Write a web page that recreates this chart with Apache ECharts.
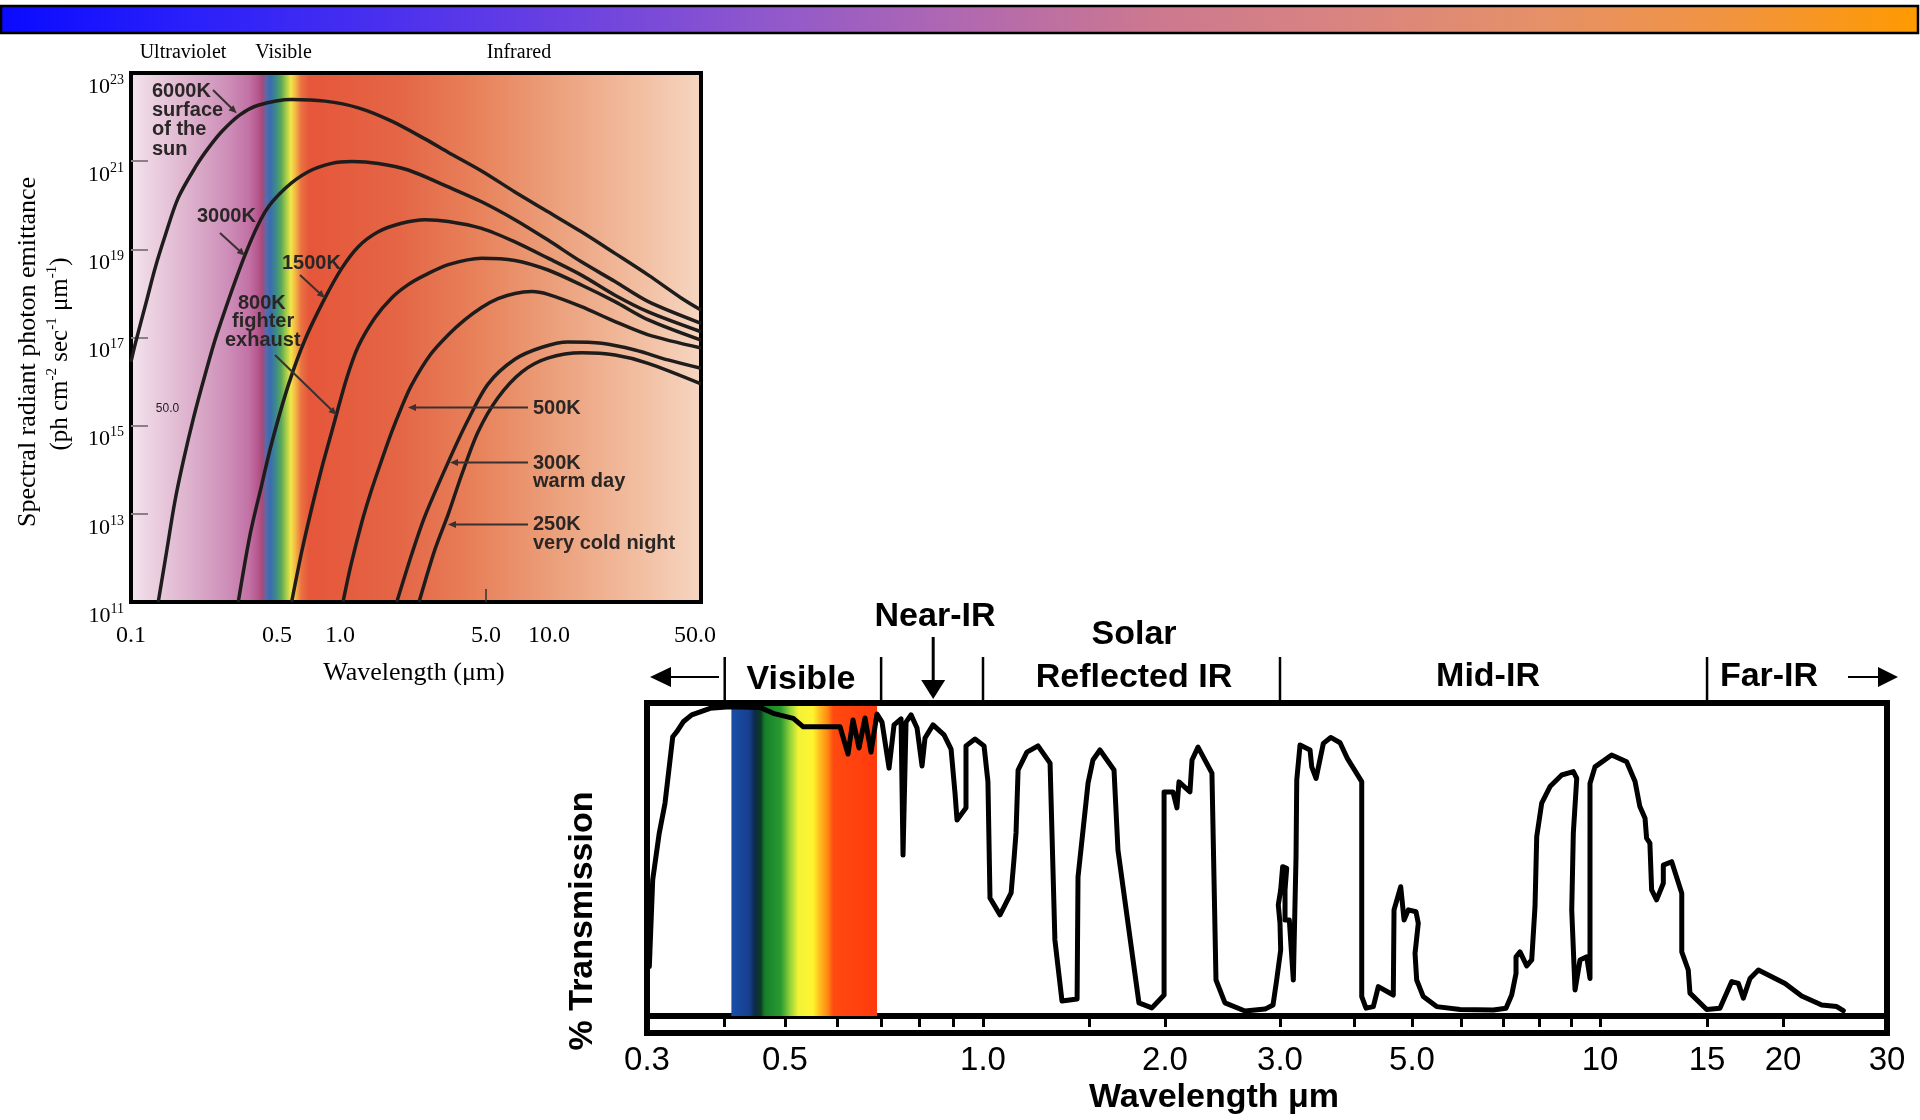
<!DOCTYPE html>
<html><head><meta charset="utf-8">
<script src="https://cdn.jsdelivr.net/npm/echarts@6/dist/echarts.min.js"></script>
<style>html,body{margin:0;padding:0;background:#fff}#c{width:1920px;height:1120px}</style>
</head><body><div id="c"></div>
<script>
// ---------------- LEFT CHART DATA: spectral photon emittance (wavelength µm, ph cm^-2 s^-1 µm^-1)
const leftTickWavelengths = [0.1, 0.5, 1.0, 5.0, 10.0, 50.0];
const leftTickLabels = ['0.1', '0.5', '1.0', '5.0', '10.0', '50.0'];
const leftWavelengthMax = 53.4;
const emittanceExponents = [11, 13, 15, 17, 19, 21, 23];

const curve6000K = [[0.1,2.8e16],[0.1045,6.8e16],[0.119,7.1e17],[0.130,3.55e18],[0.1455,2.0e19],[0.168,1.45e20],[0.206,8.1e20],[0.234,1.95e21],[0.272,4.7e21],[0.332,1.12e22],[0.406,1.86e22],[0.587,2.5e22],[0.847,2.3e22],[1.224,1.62e22],[1.767,8.1e21],[2.55,3.2e21],[3.30,1.58e21],[4.76,6.0e20],[6.87,2.0e20],[9.9,7.1e19],[14.3,2.5e19],[20.7,8.1e18],[29.9,2.6e18],[43.1,7.8e17],[53.4,4.2e17]];
const curve3000K = [[0.135,1.0e11],[0.148,1.38e12],[0.162,1.86e13],[0.178,1.58e14],[0.199,1.48e15],[0.226,1.41e16],[0.257,1.15e17],[0.351,7.4e18],[0.438,7.1e19],[0.546,2.4e20],[0.705,5.75e20],[0.912,8.9e20],[1.14,9.8e20],[1.525,8.9e20],[2.12,6.3e20],[3.30,2.6e20],[4.76,1.2e20],[6.87,4.7e19],[9.9,1.62e19],[14.3,5.2e18],[20.7,1.86e18],[29.9,6.5e17],[53.4,2.1e17]];
const curve1500K = [[0.326,1.0e11],[0.371,3.3e12],[0.422,4.5e13],[0.471,4.0e14],[0.566,8.3e15],[0.68,8.9e16],[0.847,7.8e17],[1.019,3.7e18],[1.224,1.15e19],[1.525,2.5e19],[1.97,3.9e19],[2.55,4.7e19],[3.30,4.3e19],[4.76,3.0e19],[6.87,1.48e19],[9.9,6.3e18],[14.3,2.6e18],[20.7,9.1e17],[29.9,3.8e17],[53.4,1.35e17]];
const curve800K = [[0.587,1.0e11],[0.656,1.38e12],[0.732,1.32e13],[0.817,1.07e14],[0.912,7.1e14],[1.076,1.17e16],[1.224,6.3e16],[1.47,2.8e17],[1.767,7.9e17],[2.12,1.58e18],[2.55,2.6e18],[3.30,4.5e18],[4.76,6.3e18],[6.87,5.6e18],[9.9,3.4e18],[14.3,1.55e18],[20.7,6.5e17],[29.9,2.5e17],[53.4,8.7e16]];
const curve500K = [[1.034,1.0e11],[1.13,7.1e11],[1.27,6.3e12],[1.418,3.55e13],[1.584,1.66e14],[1.767,7.1e14],[1.97,2.6e15],[2.2,8.3e15],[2.7,4.0e16],[3.30,1.15e17],[3.95,2.5e17],[4.76,4.8e17],[5.7,7.6e17],[6.87,1.0e18],[8.28,1.1e18],[9.9,9.5e17],[14.3,5.0e17],[20.7,2.3e17],[29.9,1.15e17],[53.4,5.8e16]];
const curve300K = [[1.87,1.0e11],[2.21,1.26e12],[2.55,8.9e12],[3.30,1.51e14],[4.07,1.26e15],[5.12,8.9e15],[6.87,3.2e16],[9.26,6.0e16],[12.33,7.9e16],[17.9,7.4e16],[25.8,5.2e16],[37.1,3.1e16],[53.4,2.0e16]];
const curve250K = [[2.39,1.0e11],[2.85,1.58e12],[3.30,1.0e13],[3.83,7.9e13],[4.57,7.1e14],[5.70,4.3e15],[7.43,1.66e16],[9.86,3.4e16],[14.4,4.5e16],[20.7,4.0e16],[29.8,2.6e16],[53.4,8.9e15]];
const leftCurves = [curve6000K, curve3000K, curve1500K, curve800K, curve500K, curve300K, curve250K];
const leftCurveNames = ['6000K', '3000K', '1500K', '800K', '500K', '300K', '250K'];

// ---------------- RIGHT CHART DATA: atmospheric transmission (wavelength µm, %)
const transmission = [[0.3026,15.8],[0.3064,43.5],[0.3139,58.4],[0.3207,68.0],[0.3300,89.2],[0.3349,90.8],[0.3431,94.0],[0.3540,96.2],[0.3789,98.3],[0.4077,98.8],[0.4557,98.6],[0.4787,96.7],[0.5148,95.1],[0.5331,92.4],[0.6062,92.4],[0.6234,83.7],[0.6344,94.6],[0.6479,85.6],[0.6616,95.2],[0.6757,84.3],[0.6900,96.5],[0.7022,93.9],[0.7197,79.2],[0.7324,93.0],[0.7506,94.9],[0.7558,51.4],[0.7638,93.9],[0.7773,96.2],[0.7938,92.0],[0.8078,79.9],[0.8163,88.8],[0.8395,93.0],[0.8725,89.8],[0.8942,85.3],[0.9067,71.2],[0.9131,62.6],[0.9422,66.5],[0.9422,86.3],[0.9724,88.5],[1.004,86.3],[1.019,74.8],[1.027,37.7],[1.067,32.3],[1.113,39.3],[1.125,49.8],[1.134,58.5],[1.143,78.6],[1.182,84.3],[1.233,86.3],[1.291,80.8],[1.315,24.3],[1.351,4.8],[1.431,5.4],[1.436,44.4],[1.492,74.4],[1.520,81.8],[1.561,85.0],[1.647,78.6],[1.672,53.0],[1.811,4.2],[1.903,2.6],[1.993,6.7],[1.993,71.6],[2.057,71.6],[2.086,66.5],[2.101,74.8],[2.184,71.6],[2.200,81.8],[2.247,85.9],[2.360,77.6],[2.394,11.5],[2.471,4.2],[2.652,1.6],[2.846,2.2],[2.927,3.5],[2.965,11.5],[3.008,21.1],[3.000,29.6],[2.982,35.5],[3.008,40.3],[3.031,47.7],[3.079,47.2],[3.059,40.3],[3.059,30.7],[3.110,30.7],[3.159,11.5],[3.192,50.9],[3.201,75.4],[3.242,86.6],[3.370,85.0],[3.392,79.6],[3.449,75.9],[3.548,87.1],[3.651,89.0],[3.785,87.3],[3.893,82.3],[4.116,74.9],[4.116,6.2],[4.185,2.5],[4.305,3.0],[4.389,9.4],[4.651,6.7],[4.664,33.9],[4.786,41.3],[4.849,30.7],[4.929,33.9],[5.074,33.3],[5.117,29.6],[5.056,20.0],[5.087,11.5],[5.212,6.2],[5.476,3.0],[5.970,2.1],[6.748,1.9],[7.071,2.5],[7.221,6.7],[7.337,13.6],[7.337,18.9],[7.446,20.5],[7.632,16.0],[7.774,17.9],[7.869,34.9],[7.919,57.3],[8.066,68.0],[8.317,73.3],[8.684,77.0],[9.063,78.1],[9.178,75.9],[9.063,58.4],[9.010,33.9],[9.120,8.3],[9.290,17.9],[9.522,18.9],[9.638,12.0],[9.638,74.3],[9.817,79.6],[10.45,83.4],[11.06,81.2],[11.42,74.9],[11.63,66.9],[11.86,63.2],[11.93,56.8],[12.08,55.2],[12.16,40.3],[12.39,37.1],[12.71,42.4],[12.71,48.2],[13.12,49.3],[13.63,39.2],[13.63,20.5],[13.97,14.7],[14.06,7.3],[14.98,2.1],[15.75,2.5],[16.47,11.0],[16.89,10.4],[17.21,5.7],[17.65,12.0],[18.22,14.7],[20.16,10.4],[21.51,6.4],[23.26,3.5],[24.66,3.0],[25.30,1.7]];
const rightTickWavelengths = [0.4,0.5,0.6,0.7,0.8,0.9,1.0,1.5,2.0,3.0,4,5,6,7,8,9,10,15,20];
const rightLabelWavelengths = [0.3,0.5,1.0,2.0,3.0,5.0,10,15,20,30];
const rightLabelTexts = ['0.3','0.5','1.0','2.0','3.0','5.0','10','15','20','30'];
const bandEdges = [0.4, 0.7, 1.0, 3.0, 15];
const visibleBand = [0.41, 0.69];
const nearIRMarker = 0.84;

// The original transmission axis is a hand-drawn, slightly uneven log scale:
// wavelength -> fraction of axis length at its labelled ticks.
const rightAxisScale = [[0.3,0],[0.5,0.11129],[1.0,0.27097],[2.0,0.41774],[3.0,0.51048],[5.0,0.61694],[10,0.76855],[20,0.91613],[30,1]];
function warp(l) {
  const L = Math.log10(l);
  let i = 0;
  while (i < rightAxisScale.length - 2 && L > Math.log10(rightAxisScale[i + 1][0])) i++;
  const a = rightAxisScale[i], b = rightAxisScale[i + 1];
  const la = Math.log10(a[0]), lb = Math.log10(b[0]);
  return a[1] + (b[1] - a[1]) * (L - la) / (lb - la);
}
function nearestLabel(vals, texts) {
  return function (v) {
    let best = 0;
    for (let i = 1; i < vals.length; i++) if (Math.abs(vals[i] - v) < Math.abs(vals[best] - v)) best = i;
    return texts[best];
  };
}

const SERIF = '"Liberation Serif","Times New Roman",serif';
const SANS = '"Liberation Sans",Arial,sans-serif';
const G = echarts.graphic;

const leftBg = new G.LinearGradient(0, 0, 1, 0, [
  {offset:0, color:'#f4e6ef'},{offset:0.033, color:'#edd4e3'},{offset:0.104, color:'#ddb2cd'},
  {offset:0.174, color:'#cd8db8'},{offset:0.209, color:'#c272a5'},{offset:0.223, color:'#b85a91'},
  {offset:0.232, color:'#a84a78'},{offset:0.239, color:'#5a6aa8'},{offset:0.246, color:'#3a6cb0'},
  {offset:0.256, color:'#3c8a8a'},{offset:0.265, color:'#58a858'},{offset:0.275, color:'#b0d048'},
  {offset:0.282, color:'#f2e64a'},{offset:0.291, color:'#f2b042'},{offset:0.300, color:'#ea7242'},
  {offset:0.314, color:'#e6563a'},{offset:0.472, color:'#e46646'},{offset:0.612, color:'#e8835c'},
  {offset:0.753, color:'#eca27e'},{offset:0.893, color:'#f2bfa2'},{offset:1, color:'#f6d6c2'}
]);
const spectrumFill = new G.LinearGradient(0, 0, 1, 0, [
  {offset:0, color:'#1a4fa8'},{offset:0.12, color:'#163f90'},{offset:0.16, color:'#0d2a4a'},
  {offset:0.2, color:'#0c3a22'},{offset:0.23, color:'#16802a'},{offset:0.34, color:'#2a9a30'},
  {offset:0.4, color:'#8fd03a'},{offset:0.46, color:'#f2f238'},{offset:0.56, color:'#fff530'},
  {offset:0.6, color:'#ffc420'},{offset:0.66, color:'#ff8a14'},{offset:0.7, color:'#ff4a10'},
  {offset:1, color:'#ff3a0e'}
]);

const chart = echarts.init(document.getElementById('c'), null, {renderer:'canvas'});

const leftSeries = leftCurves.map((c, i) => ({
  name: leftCurveNames[i], type: 'line', xAxisIndex: 0, yAxisIndex: 0,
  data: c.map(p => [Math.log10(p[0]), Math.log10(p[1])]),
  symbol: 'none', smooth: 0.3, clip: true, silent: true,
  lineStyle: {color: '#1f1c1c', width: 3.5, join: 'round'}
}));

const option = {
  animation: false,
  backgroundColor: '#ffffff',
  grid: [
    {left:131, top:73, width:570, height:529, show:true, borderColor:'#000', borderWidth:4,
     backgroundColor: leftBg, containLabel:false, outerBoundsMode:'none'},
    {left:647, top:703, width:1240, height:313, show:false, containLabel:false, outerBoundsMode:'none'}
  ],
  xAxis: [
    {gridIndex:0, type:'value', min:-1, max:Math.log10(leftWavelengthMax),
     axisLine:{show:false, onZero:false}, splitLine:{show:false},
     axisTick:{show:true, inside:true, length:13, customValues:[Math.log10(5)], lineStyle:{color:'#333', width:1.5}},
     axisLabel:{customValues:leftTickWavelengths.map(Math.log10),
       formatter:nearestLabel(leftTickWavelengths.map(Math.log10), leftTickLabels),
       margin:22, color:'#000', fontFamily:SERIF, fontSize:24}},
    {gridIndex:1, type:'value', min:0, max:1,
     axisLine:{show:true, onZero:false, lineStyle:{color:'#000', width:6}}, splitLine:{show:false},
     axisTick:{show:true, length:11, customValues:rightTickWavelengths.map(warp), lineStyle:{color:'#000', width:3}},
     axisLabel:{customValues:rightLabelWavelengths.map(warp),
       formatter:nearestLabel(rightLabelWavelengths.map(warp), rightLabelTexts),
       margin:28, color:'#000', fontFamily:SANS, fontSize:33}}
  ],
  yAxis: [
    {gridIndex:0, type:'value', min:11, max:23,
     axisLine:{show:false, onZero:false}, splitLine:{show:false},
     axisTick:{show:true, inside:true, length:17, customValues:emittanceExponents.slice(1, -1), lineStyle:{color:'#8a7f88', width:2}},
     axisLabel:{customValues:emittanceExponents, verticalAlign:'top', margin:7,
       formatter: v => '{b|10}{s|' + v + '}',
       rich:{b:{fontSize:22, fontFamily:SERIF, color:'#000', lineHeight:28},
             s:{fontSize:14, fontFamily:SERIF, color:'#000', lineHeight:14, verticalAlign:'top'}}}},
    {gridIndex:1, type:'value', min:0, max:100, show:false, axisLine:{onZero:false}, splitLine:{show:false}}
  ],
  series: leftSeries.concat([{
    name:'Transmission', type:'line', xAxisIndex:1, yAxisIndex:1,
    data: transmission.map(p => [warp(p[0]), p[1]]),
    symbol:'none', smooth:false, clip:true, silent:true,
    lineStyle:{color:'#000', width:5, join:'round', cap:'round'},
    markArea:{silent:true, itemStyle:{color:spectrumFill, opacity:1},
      data:[[{xAxis:warp(visibleBand[0])}, {xAxis:warp(visibleBand[1])}]]}
  }])
};
chart.setOption(option);

// ---------------- decorations and text
function txt(x, y, text, fontSize, family, opts) {
  opts = opts || {};
  return {type:'text', x:x, y:y, rotation:opts.rot || 0, z:100, silent:true,
    style:{text:text, fontSize:fontSize, fontFamily:family, fontWeight:opts.weight || 'normal',
      fill:opts.fill || '#000', align:opts.align || 'center', verticalAlign:'middle',
      textAlign:opts.align || 'center', textVerticalAlign:'middle', rich:opts.rich}};
}
function line(x1, y1, x2, y2, w, color) {
  return {type:'line', z:100, silent:true, shape:{x1:x1, y1:y1, x2:x2, y2:y2}, style:{stroke:color || '#000', lineWidth:w}};
}
function head(x1, y1, x2, y2, len, half, color) {
  const dx = x2 - x1, dy = y2 - y1, d = Math.hypot(dx, dy), ux = dx / d, uy = dy / d;
  const bx = x2 - ux * len, by = y2 - uy * len;
  return {type:'polygon', z:100, silent:true,
    shape:{points:[[x2, y2], [bx - uy * half, by + ux * half], [bx + uy * half, by - ux * half]]},
    style:{fill:color || '#000'}};
}
function arrow(x1, y1, x2, y2, w, len, half, color) {
  const dx = x2 - x1, dy = y2 - y1, d = Math.hypot(dx, dy);
  return [line(x1, y1, x2 - dx / d * len * 0.8, y2 - dy / d * len * 0.8, w, color), head(x1, y1, x2, y2, len, half, color)];
}

const px = l => chart.convertToPixel({xAxisIndex:1}, warp(l));
const ANN = '#2b2626';
let g = [];
// top gradient bar
g.push({type:'rect', z:100, silent:true, shape:{x:1, y:6, width:1917, height:27},
  style:{fill:new G.LinearGradient(0, 0, 1, 0, [
    {offset:0, color:'#0a0aff'},{offset:0.1, color:'#2a20fa'},{offset:0.2, color:'#4a30ee'},
    {offset:0.3, color:'#6c42e0'},{offset:0.4, color:'#9058cc'},{offset:0.5, color:'#b068b0'},
    {offset:0.6, color:'#cc7890'},{offset:0.7, color:'#d98480'},{offset:0.8, color:'#e59068'},
    {offset:0.9, color:'#f19440'},{offset:1, color:'#ff9a00'}]), stroke:'#000', lineWidth:2.5}});

// left chart texts
g.push(txt(183, 53, 'Ultraviolet', 20, SERIF));
g.push(txt(283.5, 53, 'Visible', 20, SERIF));
g.push(txt(519, 53, 'Infrared', 20, SERIF));
g.push(txt(28, 352, 'Spectral radiant photon emittance', 26, SERIF, {rot:Math.PI / 2}));
g.push(txt(60, 354, '{n|(ph cm}{s|-2}{n| sec}{s|-1}{n| μm}{s|-1}{n|)}', 25, SERIF, {rot:Math.PI / 2,
  rich:{n:{fontSize:25, fontFamily:SERIF, color:'#000', lineHeight:30},
        s:{fontSize:15, fontFamily:SERIF, color:'#000', lineHeight:15, verticalAlign:'top'}}}));
g.push(txt(414, 673, 'Wavelength (μm)', 26, SERIF));
g.push(txt(167.5, 409, '50.0', 12, SANS, {fill:'#222'}));
const annBold = {weight:'bold', fill:ANN, align:'left'};
[['6000K',152,91],['surface',152,110],['of the',152,129.5],['sun',152,149.5],['3000K',197,216],
 ['1500K',282,263],['800K',238,303],['fighter',232,321],['exhaust',225,340],['500K',533,408],
 ['300K',533,463],['warm day',533,481],['250K',533,524.5],['very cold night',533,543]
].forEach(t => g.push(txt(t[1], t[2], t[0], 20, SANS, annBold)));
[[213,90,236.7,113.3],[220,233,245,255.7],[300,275,325,298],[275,355,336.7,415],
 [528,407.5,408,407.5],[528,462.5,450,462.5],[528,524.5,448,524.5]
].forEach(a => { g = g.concat(arrow(a[0], a[1], a[2], a[3], 2, 8, 3.5, '#3a3030')); });

// right chart frame and headers
g.push({type:'rect', z:100, silent:true, shape:{x:647, y:703, width:1240, height:330}, style:{fill:null, stroke:'#000', lineWidth:6}});
bandEdges.forEach(l => { const x = px(l); g.push(line(x, 657, x, 703, 2.5)); });
const nx = px(nearIRMarker);
g = g.concat(arrow(nx, 637, nx, 699, 3, 19, 12));
g = g.concat(arrow(719, 677, 650, 677, 2, 21, 10));
g = g.concat(arrow(1848, 677, 1898, 677, 2, 20, 10));
const hb = {weight:'bold'};
g.push(txt(801, 680, 'Visible', 34, SANS, hb));
g.push(txt(935, 617, 'Near-IR', 34, SANS, hb));
g.push(txt(1134, 635, 'Solar', 34, SANS, hb));
g.push(txt(1134, 678, 'Reflected IR', 34, SANS, hb));
g.push(txt(1488, 677, 'Mid-IR', 34, SANS, hb));
g.push(txt(1769, 677, 'Far-IR', 34, SANS, hb));
g.push(txt(583, 921, '% Transmission', 34, SANS, {weight:'bold', rot:Math.PI / 2}));
g.push(txt(1214, 1098, 'Wavelength μm', 34, SANS, hb));

chart.setOption({graphic:{elements:g}});
</script>
</body></html>
